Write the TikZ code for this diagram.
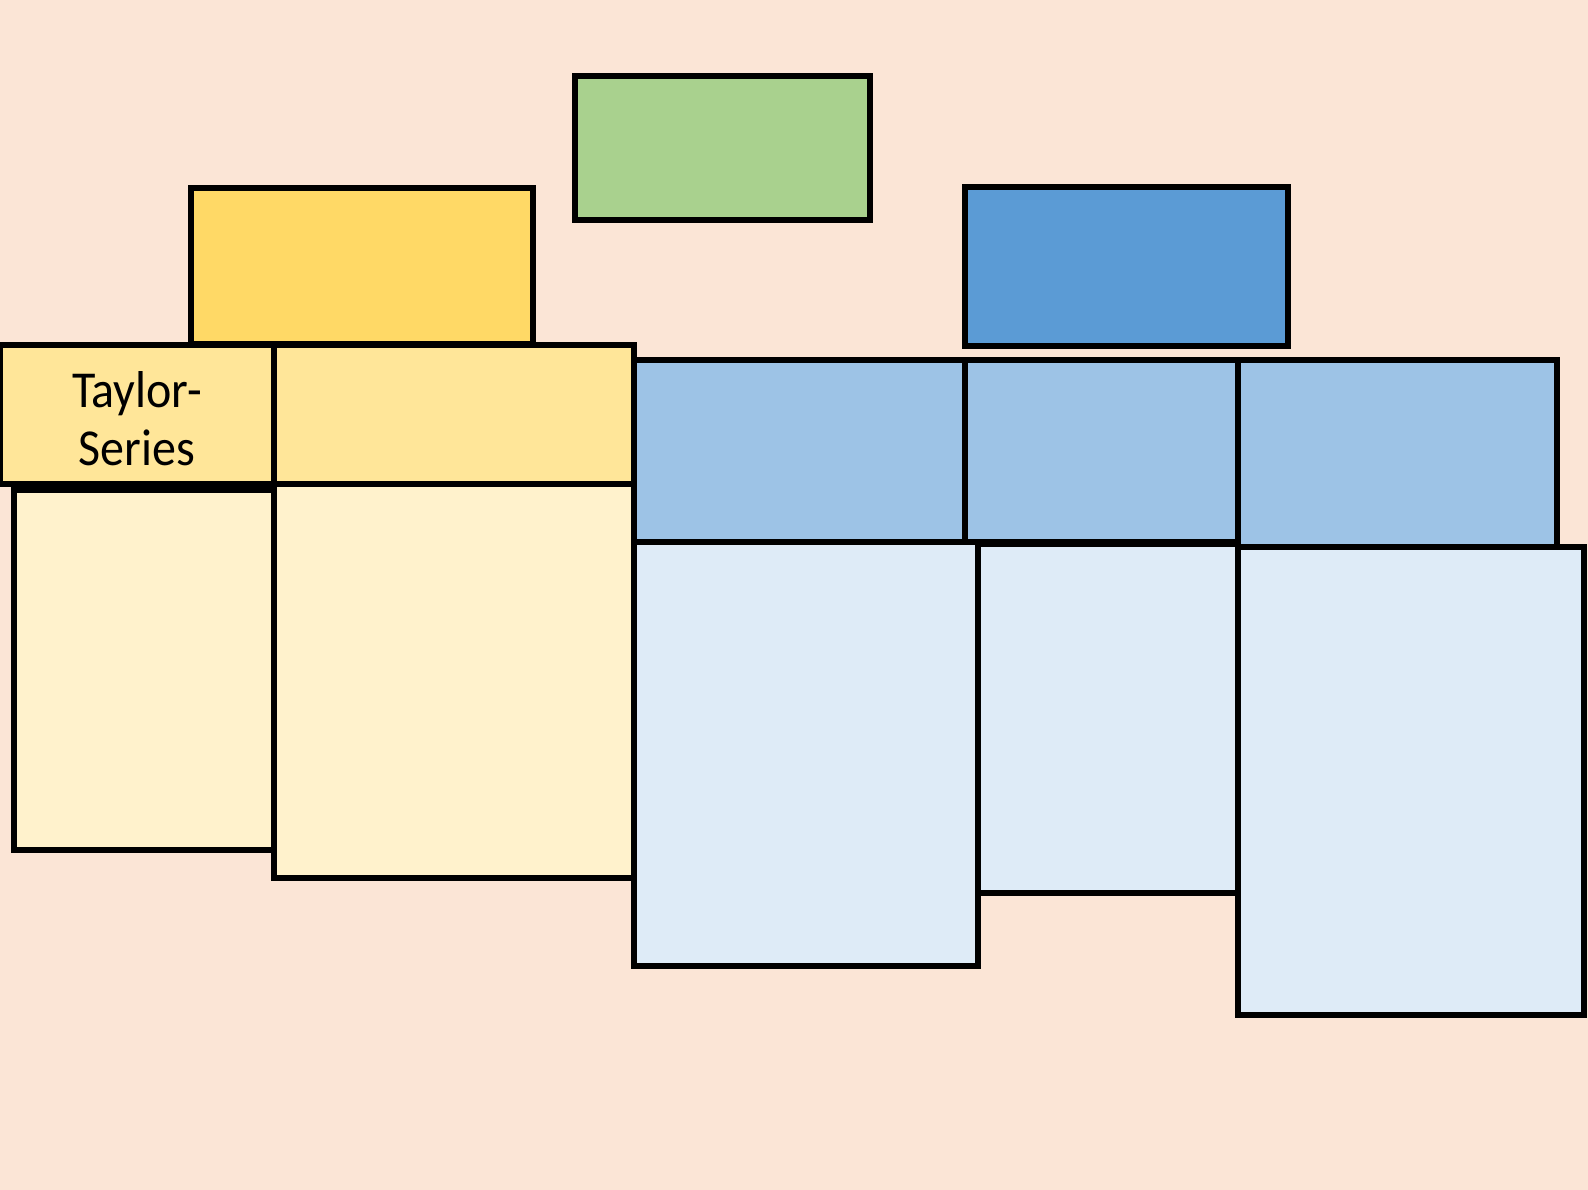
\documentclass[tikz,border=0pt]{standalone}
\usepackage{fontspec}
\setmainfont{Carlito}
\usepackage{graphicx}
\definecolor{bgc}{HTML}{FBE5D6}
\definecolor{greenc}{HTML}{A9D18E}
\definecolor{ytop}{HTML}{FFD966}
\definecolor{yhead}{HTML}{FFE699}
\definecolor{ybody}{HTML}{FFF2CC}
\definecolor{btop}{HTML}{5B9BD5}
\definecolor{bhead}{HTML}{9DC3E6}
\definecolor{bbody}{HTML}{DEEBF7}
\tikzset{
  box/.style={draw=black, line width=6pt, inner sep=0pt, outer sep=0pt, anchor=north west, line join=miter},
}
\newcommand{\boxat}[6]{% name, fill, x1, y1, x2, y2
  \node[box, fill=#2, minimum width={(#5-#3)*1pt}, minimum height={(#6-#4)*1pt}] (#1) at (#3,#4) {};}
\begin{document}
\begin{tikzpicture}[x=1pt,y=-1pt]
\useasboundingbox (0,0) rectangle (1588,1190);
\fill[bgc] (0,0) rectangle (1588,1190);
% top boxes
\boxat{green}{greenc}{575}{76}{870}{220}
\boxat{ytopbox}{ytop}{191}{188}{533}{344}
\boxat{btopbox}{btop}{965}{187}{1288}{346}
% yellow headers
\boxat{taylorhead}{yhead}{0}{345}{274}{484}
\boxat{yheadtwo}{yhead}{274}{345}{634}{484}
% yellow bodies
\boxat{taylorbody}{ybody}{14}{490}{274}{850}
\boxat{ybodytwo}{ybody}{274}{484}{634}{878}
% blue headers
\boxat{bheadone}{bhead}{634}{360}{965}{542}
\boxat{bheadtwo}{bhead}{965}{360}{1238}{542}
\boxat{bheadthree}{bhead}{1238}{360}{1557}{547}
% blue bodies
\boxat{bbodyone}{bbody}{634}{542}{978}{966}
\boxat{bbodytwo}{bbody}{978}{544}{1238}{893}
\boxat{bbodythree}{bbody}{1238}{547}{1584}{1015}
% text
\node[inner sep=0pt] (taylortext) at (137,425) {\fontsize{48}{54}\selectfont\scalebox{1}[1.08]{\begin{tabular}{@{}c@{}}Taylor-\\Series\end{tabular}}};
\end{tikzpicture}
\end{document}
